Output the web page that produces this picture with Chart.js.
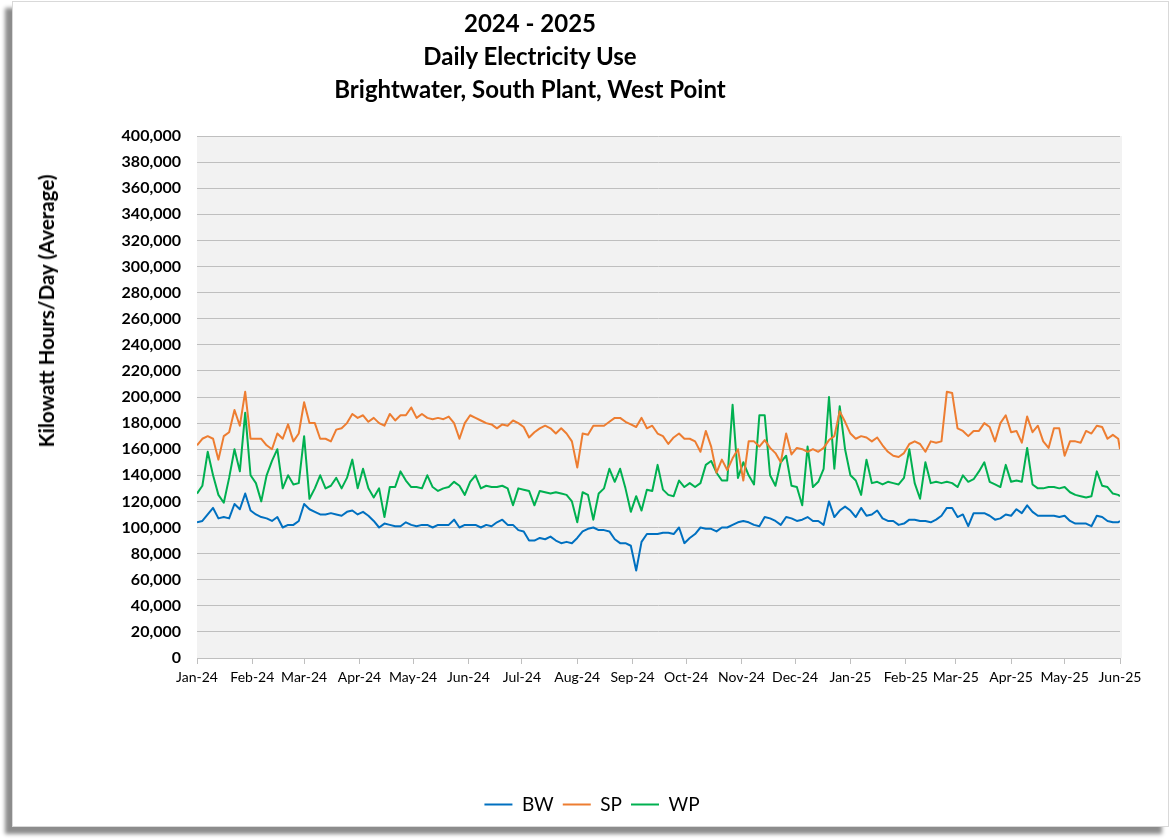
<!DOCTYPE html>
<html>
<head>
<meta charset="utf-8">
<script src="https://cdn.jsdelivr.net/npm/chart.js@4.4.1/dist/chart.umd.min.js"></script>
<style>
html,body{margin:0;padding:0;background:#fff;}
#wrap{position:relative;width:1170px;height:840px;overflow:hidden;background:#fff;}
#frame{position:absolute;left:12px;top:1px;width:1155px;height:824px;border:1px solid #d9d9d9;background:#fff;box-shadow:-7px 7px 4px rgba(0,0,0,0.45);}
#c{position:absolute;left:0;top:0;}
#title{position:absolute;left:530px;top:6px;transform:translateX(-50%);text-align:center;font:700 24px Lato, sans-serif;line-height:33px;white-space:nowrap;color:#000;}
#ylab{position:absolute;left:46px;top:311px;transform:translate(-50%,-50%) rotate(-90deg);font:700 20.5px Lato, sans-serif;white-space:nowrap;color:#000;}
</style>
</head>
<body>
<div id="wrap">
  <div id="frame"></div>
  <canvas id="c" width="1170" height="840"></canvas>
  <div id="title">2024 - 2025<br>Daily Electricity Use<br>Brightwater, South Plant, West Point</div>
  <div id="ylab">Kilowatt Hours/Day (Average)</div>
</div>
<script>
// Day offsets from 1 Jan 2024 (sample positions)
const days = [0,3,6,9,12,15,18,21,24,27,30,33,36,39,42,45,48,51,54,57,60,63,66,69,72,75,78,81,84,
87,90,93,96,99,102,105,108,111,114,117,120,123,126,129,132,135,138,141,144,147,150,153,156,159,162,165,168,171,
174,177,180,183,186,189,192,195,198,201,204,207,210,213,216,219,222,225,228,231,234,237,240,243,246,249,252,255,258,
261,264,267,270,273,276,279,282,285,288,291,294,297,300,303,306,309,312,315,318,321,324,327,330,333,336,339,342,345,
348,351,354,357,360,363,366,369,372,375,378,381,384,387,390,393,396,399,402,405,408,411,414,417,420,423,426,429,432,
435,438,441,444,447,450,453,456,459,462,465,468,471,474,477,480,483,486,489,492,495,498,501,504,507,510,513,516,517];

const BW = [104000,105000,110000,115000,107000,108000,107000,118000,114000,126000,113000,110000,108000,107000,105000,108000,100000,102000,102000,105000,118000,114000,112000,110000,110000,111000,110000,109000,112000,
113000,110000,112000,109000,105000,100000,103000,102000,101000,101000,104000,102000,101000,102000,102000,100000,102000,102000,102000,106000,100000,102000,102000,102000,100000,102000,101000,104000,106000,
102000,102000,98000,97000,90000,90000,92000,91000,93000,90000,88000,89000,88000,92000,97000,99000,100000,98000,98000,97000,91000,88000,88000,86000,67000,89000,95000,95000,95000,
96000,96000,95000,100000,88000,92000,95000,100000,99000,99000,97000,100000,100000,102000,104000,105000,104000,102000,101000,108000,107000,105000,102000,108000,107000,105000,106000,108000,105000,
105000,102000,120000,108000,113000,116000,113000,108000,115000,109000,110000,113000,107000,105000,105000,102000,103000,106000,106000,105000,105000,104000,106000,109000,115000,115000,108000,110000,101000,
111000,111000,111000,109000,106000,107000,110000,109000,114000,111000,117000,112000,109000,109000,109000,109000,108000,109000,105000,103000,103000,103000,101000,109000,108000,105000,104000,104000,105000];

const SP = [163000,168000,170000,168000,152000,170000,173000,190000,178000,204000,168000,168000,168000,163000,160000,172000,168000,179000,166000,172000,196000,180000,180000,168000,168000,166000,175000,176000,180000,
187000,184000,186000,181000,184000,180000,178000,187000,182000,186000,186000,192000,184000,187000,184000,183000,184000,183000,185000,180000,168000,180000,186000,184000,182000,180000,179000,176000,179000,
178000,182000,180000,177000,169000,173000,176000,178000,176000,172000,176000,172000,166000,146000,172000,171000,178000,178000,178000,181000,184000,184000,181000,179000,177000,184000,176000,178000,172000,
170000,164000,169000,172000,168000,168000,166000,158000,174000,162000,142000,152000,144000,153000,160000,136000,166000,166000,162000,167000,161000,157000,150000,172000,156000,161000,160000,158000,160000,
158000,161000,167000,170000,189000,181000,172000,168000,170000,169000,166000,169000,163000,158000,155000,154000,157000,164000,166000,164000,158000,166000,165000,166000,204000,203000,176000,174000,170000,
174000,174000,180000,177000,166000,180000,186000,173000,174000,165000,185000,173000,178000,166000,161000,176000,176000,155000,166000,166000,165000,174000,172000,178000,177000,168000,171000,168000,160000];

const WP = [126000,132000,158000,140000,125000,119000,138000,160000,143000,188000,140000,134000,120000,140000,151000,160000,130000,140000,133000,134000,170000,122000,130000,140000,130000,132000,138000,130000,138000,
152000,130000,145000,130000,123000,130000,108000,131000,131000,143000,136000,131000,131000,130000,140000,131000,128000,130000,131000,135000,132000,125000,135000,140000,130000,132000,131000,131000,132000,
130000,117000,130000,129000,128000,117000,128000,127000,126000,127000,126000,125000,120000,104000,127000,125000,106000,126000,130000,145000,135000,145000,130000,112000,124000,113000,129000,128000,148000,
129000,125000,124000,136000,131000,134000,131000,134000,148000,151000,142000,136000,136000,194000,138000,150000,140000,133000,186000,186000,140000,132000,150000,155000,132000,131000,117000,162000,131000,
135000,145000,200000,145000,193000,160000,140000,136000,125000,152000,134000,135000,133000,135000,134000,133000,138000,160000,134000,122000,150000,134000,135000,134000,135000,134000,131000,140000,135000,
137000,143000,150000,135000,133000,131000,148000,135000,136000,135000,161000,133000,130000,130000,131000,131000,130000,131000,127000,125000,124000,123000,124000,143000,132000,131000,126000,125000,124000];

const seriesNames = ['BW','SP','WP'];
const seriesColors = ['#0070C0','#ED7D31','#00B050'];
const monthDays = [0,31,60,91,121,152,182,213,244,274,305,335,366,397,425,456,486,517];
const monthLabels = ['Jan-24','Feb-24','Mar-24','Apr-24','May-24','Jun-24','Jul-24','Aug-24','Sep-24','Oct-24','Nov-24','Dec-24','Jan-25','Feb-25','Mar-25','Apr-25','May-25','Jun-25'];

function pts(vals){ return days.map((d,i)=>({x:d, y:vals[i]})); }

const plotBg = {
  id:'plotBg',
  beforeDraw(chart){
    const {ctx, chartArea:a} = chart;
    ctx.save();
    ctx.fillStyle = '#f2f2f2';
    ctx.fillRect(a.left, a.top, a.right - a.left + 2, a.bottom - a.top);
    ctx.restore();
  }
};

const seriesVals = [BW, SP, WP];
new Chart(document.getElementById('c'), {
  type:'line',
  data:{
    datasets: seriesNames.map((n,i)=>({
      label:n, data:pts(seriesVals[i]),
      borderColor:seriesColors[i], backgroundColor:seriesColors[i],
      borderWidth:2, pointRadius:0, tension:0, borderJoinStyle:'round'
    }))
  },
  options:{
    responsive:false, animation:false,
    layout:{padding:{left:64,right:50,top:136,bottom:16}},
    plugins:{
      legend:{position:'bottom',labels:{usePointStyle:true,pointStyle:'line',pointStyleWidth:28,boxHeight:2,color:'#000',font:{family:'Lato',size:19},padding:9}},
      title:{display:false},
      tooltip:{enabled:false}
    },
    scales:{
      x:{
        type:'linear', min:0, max:517,
        afterBuildTicks:s=>{ s.ticks = monthDays.map(v=>({value:v})); },
        afterFit:s=>{ s.height = 128; },
        ticks:{autoSkip:false,maxRotation:0,color:'#000',font:{family:'Lato',size:14},padding:5,
          callback:(v)=>{ const k = monthDays.indexOf(v); return k>=0 ? monthLabels[k] : ''; }},
        grid:{drawOnChartArea:false,drawTicks:true,tickLength:6,color:'#bfbfbf'},
        border:{color:'#bfbfbf'}
      },
      y:{
        min:0, max:400000,
        afterFit:s=>{ s.width = 133; },
        ticks:{stepSize:20000,autoSkip:false,color:'#000',font:{family:'Lato',size:16,weight:'bold'},padding:16,
          callback:v=>v.toLocaleString('en-US')},
        grid:{color:'#bfbfbf',drawTicks:false},
        border:{display:false}
      }
    }
  },
  plugins:[plotBg]
});
</script>
</body>
</html>
